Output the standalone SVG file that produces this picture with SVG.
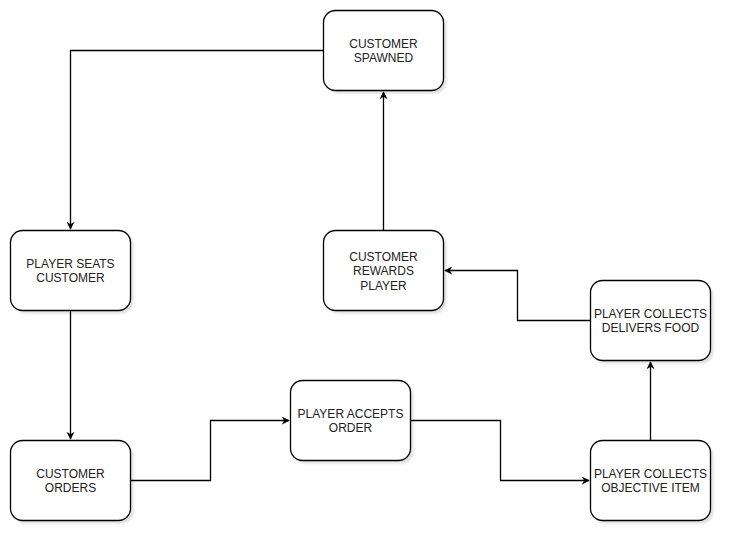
<svg xmlns="http://www.w3.org/2000/svg" width="732" height="542" viewBox="0 0 732 542">
<style>
.box{fill:#fff;stroke:#000;stroke-width:1.3}
.sh{fill:#000;opacity:0.12}
.t{font-family:"Liberation Sans",Arial,sans-serif;font-size:12px;fill:#222;text-anchor:middle}
.e{fill:none;stroke:#000;stroke-width:1.3}
</style>
<defs>
<marker id="a" viewBox="0 0 10 10" refX="9" refY="5" markerWidth="8" markerHeight="8" markerUnits="userSpaceOnUse" orient="auto">
<path d="M0,0 L10,5 L0,10 L3,5 Z" fill="#000"/>
</marker>
<filter id="b" x="-10%" y="-10%" width="130%" height="130%"><feGaussianBlur stdDeviation="1.2"/></filter>
</defs>
<rect width="732" height="542" fill="#fff"/>
<g id="connectors">
<path class="e" d="M323.5,50.5 H70.5 V229" marker-end="url(#a)"/>
<path class="e" d="M70.5,310.5 V439" marker-end="url(#a)"/>
<path class="e" d="M130.5,480.5 H210.5 V420.5 H289" marker-end="url(#a)"/>
<path class="e" d="M410.5,420.5 H500.5 V480.5 H589" marker-end="url(#a)"/>
<path class="e" d="M650.5,440.5 V362" marker-end="url(#a)"/>
<path class="e" d="M590.5,320.5 H517.5 V270.5 H445" marker-end="url(#a)"/>
<path class="e" d="M383.5,230.5 V92" marker-end="url(#a)"/>
</g>
<g id="spawned">
<rect class="sh" x="326.5" y="13.5" width="120" height="80" rx="12" filter="url(#b)"/>
<rect class="box" x="323.5" y="10.5" width="120" height="80" rx="12"/>
<text class="t" x="383.5" y="47.5">CUSTOMER</text>
<text class="t" x="383.5" y="61.5">SPAWNED</text>
</g>
<g id="seats">
<rect class="sh" x="13.5" y="233.5" width="120" height="80" rx="12" filter="url(#b)"/>
<rect class="box" x="10.5" y="230.5" width="120" height="80" rx="12"/>
<text class="t" x="70.5" y="267.5">PLAYER SEATS</text>
<text class="t" x="70.5" y="281.5">CUSTOMER</text>
</g>
<g id="orders">
<rect class="sh" x="13.5" y="443.5" width="120" height="80" rx="12" filter="url(#b)"/>
<rect class="box" x="10.5" y="440.5" width="120" height="80" rx="12"/>
<text class="t" x="70.5" y="477.5">CUSTOMER</text>
<text class="t" x="70.5" y="491.5">ORDERS</text>
</g>
<g id="accepts">
<rect class="sh" x="293.5" y="383.5" width="120" height="80" rx="12" filter="url(#b)"/>
<rect class="box" x="290.5" y="380.5" width="120" height="80" rx="12"/>
<text class="t" x="350.5" y="417.5">PLAYER ACCEPTS</text>
<text class="t" x="350.5" y="431.5">ORDER</text>
</g>
<g id="objective">
<rect class="sh" x="593.5" y="443.5" width="120" height="80" rx="12" filter="url(#b)"/>
<rect class="box" x="590.5" y="440.5" width="120" height="80" rx="12"/>
<text class="t" x="650.5" y="477.5">PLAYER COLLECTS</text>
<text class="t" x="650.5" y="491.5">OBJECTIVE ITEM</text>
</g>
<g id="delivers">
<rect class="sh" x="593.5" y="283.5" width="120" height="80" rx="12" filter="url(#b)"/>
<rect class="box" x="590.5" y="280.5" width="120" height="80" rx="12"/>
<text class="t" x="650.5" y="317.5">PLAYER COLLECTS</text>
<text class="t" x="650.5" y="331.5">DELIVERS FOOD</text>
</g>
<g id="rewards">
<rect class="sh" x="326.5" y="233.5" width="120" height="80" rx="12" filter="url(#b)"/>
<rect class="box" x="323.5" y="230.5" width="120" height="80" rx="12"/>
<text class="t" x="383.5" y="260.5">CUSTOMER</text>
<text class="t" x="383.5" y="274.5">REWARDS</text>
<text class="t" x="383.5" y="289.5">PLAYER</text>
</g>
</svg>
